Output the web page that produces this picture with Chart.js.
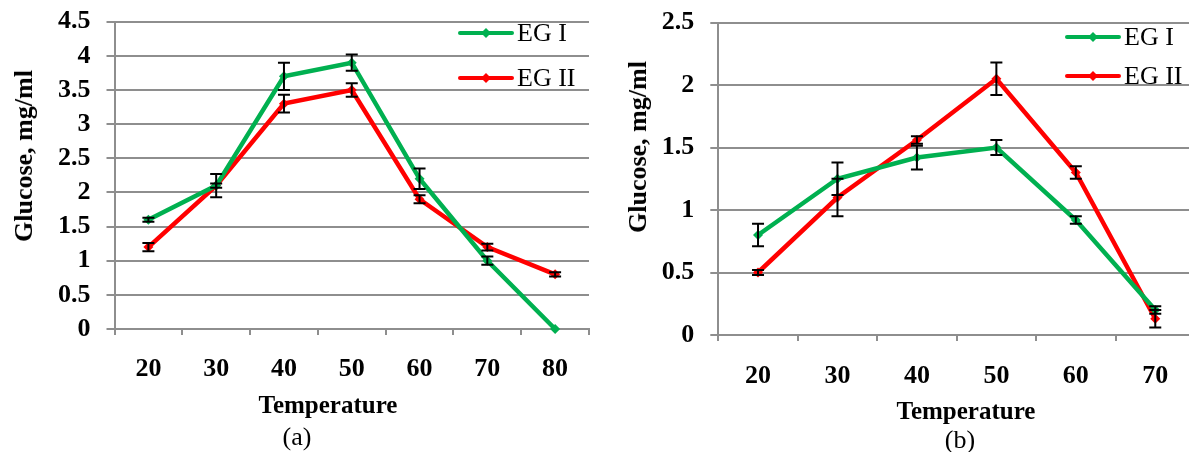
<!DOCTYPE html>
<html>
<head>
<meta charset="utf-8">
<script src="https://cdn.jsdelivr.net/npm/chart.js@4.4.0/dist/chart.umd.min.js"></script>
<style>
  body { margin: 0; background: #fff; }
  #wrap { position: relative; width: 1189px; height: 452px; overflow: hidden; background: #fff; }
  canvas { position: absolute; top: 0; }
  .lbl { position: absolute; font-family: "Liberation Serif", "Times New Roman", serif; color: #000; white-space: nowrap; transform: translate(-50%, -50%); }
  .b { font-weight: bold; font-size: 25px; }
  .rot { transform: translate(-50%, -50%) rotate(-90deg); font-size: 26px; }
  .pan { font-size: 26px; }
</style>
</head>
<body>
<div id="wrap">
  <canvas id="chartA" width="595" height="452" style="left:0px"></canvas>
  <canvas id="chartB" width="600" height="452" style="left:600px"></canvas>
  <div class="lbl b rot" style="left:24px; top:156px">Glucose, mg/ml</div>
  <div class="lbl b" style="left:328px; top:405px">Temperature</div>
  <div class="lbl pan" style="left:297px; top:437px">(a)</div>
  <div class="lbl b rot" style="left:638px; top:147px">Glucose, mg/ml</div>
  <div class="lbl b" style="left:966px; top:411px">Temperature</div>
  <div class="lbl pan" style="left:960px; top:440px">(b)</div>
</div>
<script>
// (a) temperature vs glucose
const tempsA = ['20', '30', '40', '50', '60', '70', '80'];
const eg1A = [1.6, 2.1, 3.7, 3.9, 2.2, 1.0, 0.0];
const eg1ErrA = [0.03, 0.03, 0.2, 0.12, 0.15, 0.06, 0];
const eg2A = [1.2, 2.1, 3.3, 3.5, 1.9, 1.2, 0.8];
const eg2ErrA = [0.06, 0.17, 0.13, 0.1, 0.06, 0.05, 0.03];
const yTicksA = ['0', '0.5', '1', '1.5', '2', '2.5', '3', '3.5', '4', '4.5'];

// (b)
const tempsB = ['20', '30', '40', '50', '60', '70'];
const eg1B = [0.8, 1.25, 1.42, 1.5, 0.92, 0.2];
const eg1ErrB = [0.09, 0.13, 0.095, 0.06, 0.03, 0.03];
const eg2B = [0.5, 1.1, 1.56, 2.05, 1.3, 0.13];
const eg2ErrB = [0.02, 0.15, 0.03, 0.13, 0.05, 0.07];
const yTicksB = ['0', '0.5', '1', '1.5', '2', '2.5'];

const GREEN = '#00b050';
const RED = '#ff0000';
const GRID = '#8e8e8e';
const FONT = '"Liberation Serif", "Times New Roman", serif';

// black error bars with caps
const errorBars = {
  id: 'errorBars',
  afterDatasetsDraw(chart) {
    const ctx = chart.ctx;
    const y = chart.scales.y;
    ctx.save();
    ctx.strokeStyle = '#000';
    ctx.lineWidth = 2;
    chart.data.datasets.forEach((ds, i) => {
      const meta = chart.getDatasetMeta(i);
      meta.data.forEach((pt, j) => {
        const e = ds.errors[j];
        if (!e) return;
        const t = y.getPixelForValue(ds.data[j] + e);
        const b = y.getPixelForValue(ds.data[j] - e);
        ctx.beginPath();
        ctx.moveTo(pt.x, t); ctx.lineTo(pt.x, b);
        ctx.moveTo(pt.x - 6, t); ctx.lineTo(pt.x + 6, t);
        ctx.moveTo(pt.x - 6, b); ctx.lineTo(pt.x + 6, b);
        ctx.stroke();
      });
    });
    ctx.restore();
  }
};

// legend drawn inside the plot, like the original
const boxLegend = {
  id: 'boxLegend',
  afterDraw(chart, args, opts) {
    const ctx = chart.ctx;
    ctx.save();
    chart.data.datasets.forEach((ds, i) => {
      const y = opts.y[i];
      ctx.strokeStyle = ds.borderColor;
      ctx.lineWidth = 4;
      ctx.lineCap = 'round';
      ctx.beginPath();
      ctx.moveTo(opts.x, y); ctx.lineTo(opts.x + 52, y);
      ctx.stroke();
      const cx = opts.x + 26;
      ctx.fillStyle = ds.borderColor;
      ctx.beginPath();
      ctx.moveTo(cx, y - 5); ctx.lineTo(cx + 5, y); ctx.lineTo(cx, y + 5); ctx.lineTo(cx - 5, y);
      ctx.closePath(); ctx.fill();
      ctx.fillStyle = '#000';
      ctx.font = '26px ' + FONT;
      ctx.textBaseline = 'middle';
      ctx.fillText(ds.label, opts.x + 57, y + 1);
    });
    ctx.restore();
  }
};

function makeChart(id, labels, s1, e1, s2, e2, yMax, yTicks, geo) {
  return new Chart(document.getElementById(id), {
    type: 'line',
    data: {
      labels: labels,
      datasets: [
        { label: 'EG I', data: s1, errors: e1, borderColor: GREEN, backgroundColor: GREEN, clip: false,
          borderWidth: 4.5, pointStyle: 'rectRot', pointRadius: 5, pointBorderWidth: 0, tension: 0 },
        { label: 'EG II', data: s2, errors: e2, borderColor: RED, backgroundColor: RED, clip: false,
          borderWidth: 4.5, pointStyle: 'rectRot', pointRadius: 5, pointBorderWidth: 0, tension: 0 }
      ]
    },
    options: {
      responsive: false,
      animation: false,
      events: [],
      layout: { padding: { top: geo.top, right: geo.right, left: 0, bottom: 0 } },
      plugins: {
        legend: { display: false },
        tooltip: { enabled: false },
        boxLegend: { x: geo.legX, y: geo.legY }
      },
      scales: {
        x: {
          offset: true,
          grid: { offset: true, drawOnChartArea: false, drawTicks: true, tickLength: 6, color: GRID, lineWidth: 2 },
          border: { color: GRID, width: 2 },
          ticks: { color: '#000', padding: geo.xPad, maxRotation: 0, font: { family: FONT, size: 26, weight: 'bold' } },
          afterFit(scale) { scale.height = geo.xH; }
        },
        y: {
          min: 0, max: yMax,
          ticks: { stepSize: 0.5, autoSkip: false, color: '#000', padding: geo.yPad,
            font: { family: FONT, size: 26, weight: 'bold' },
            callback: (v, i) => yTicks[i] },
          grid: { color: GRID, lineWidth: 2, tickLength: 8 },
          border: { color: GRID, width: 2 },
          afterFit(scale) {
            scale.width = geo.yW;
            scale.paddingTop = 0;
            scale.paddingBottom = 0;
          }
        }
      }
    },
    plugins: [errorBars, boxLegend]
  });
}

makeChart('chartA', tempsA, eg1A, eg1ErrA, eg2A, eg2ErrA, 4.5, yTicksA,
  { top: 21.7, right: 6, xH: 123, yW: 114.5, xPad: 19, yPad: 16, legX: 460, legY: [33, 78] });
makeChart('chartB', tempsB, eg1B, eg1ErrB, eg2B, eg2ErrB, 2.5, yTicksB,
  { top: 22.5, right: 0.5, xH: 117, yW: 118.3, xPad: 20, yPad: 16, legX: 467, legY: [37, 76] });
</script>
</body>
</html>
